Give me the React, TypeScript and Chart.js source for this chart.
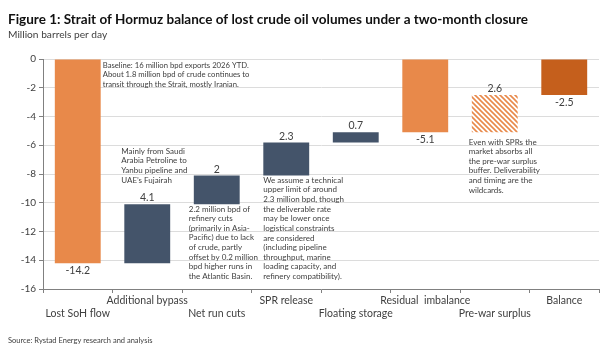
import React, { useEffect, useRef } from "react";
import { Chart, registerables } from "chart.js";

Chart.register(...registerables);

const categories = [
  "Lost SoH flow",
  "Additional bypass",
  "Net run cuts",
  "SPR release",
  "Floating storage",
  "Residual  imbalance",
  "Pre-war surplus",
  "Balance",
];
const values = [-14.2, 4.1, 2.0, 2.3, 0.7, -5.1, 2.6, -2.5];
const kinds = ["total", "step", "step", "step", "step", "total", "step", "total"];
const valueLabels = ["-14.2", "4.1", "2", "2.3", "0.7", "-5.1", "2.6", "-2.5"];
const yTicks = [0, -2, -4, -6, -8, -10, -12, -14, -16];

const TITLE = "Figure 1: Strait of Hormuz balance of lost crude oil volumes under a two-month closure";
const SUBTITLE = "Million barrels per day";
const SOURCE = "Source: Rystad Energy research and analysis";

const annotations = [
  {
    cat: 0, dx: 25, y: -0.42, size: 7.7,
    lines: [
      "Baseline: 16 million bpd exports 2026 YTD.",
      "About 1.8 million bpd of crude continues to",
      "transit through the Strait, mostly Iranian.",
    ],
  },
  {
    cat: 1, dx: -26, y: -6.4, size: 8,
    lines: ["Mainly from Saudi", "Arabia Petroline to", "Yanbu pipeline and", "UAE\u2019s Fujairah"],
  },
  {
    cat: 2, dx: -28, y: -10.43, size: 8,
    lines: [
      "2.2 million bpd of",
      "refinery cuts",
      "(primarily in Asia-",
      "Pacific) due to lack",
      "of crude, partly",
      "offset by 0.2 million",
      "bpd higher runs in",
      "the Atlantic Basin.",
    ],
  },
  {
    cat: 3, dx: -23, y: -8.42, size: 8,
    lines: [
      "We assume a technical",
      "upper limit of around",
      "2.3 million bpd, though",
      "the deliverable rate",
      "may be lower once",
      "logistical constraints",
      "are considered",
      "(including pipeline",
      "throughput, marine",
      "loading capacity, and",
      "refinery compatibility).",
    ],
  },
  {
    cat: 6, dx: -26, y: -5.77, size: 8,
    lines: [
      "Even with SPRs the",
      "market absorbs all",
      "the pre-war surplus",
      "buffer. Deliverability",
      "and timing are the",
      "wildcards.",
    ],
  },
];

const ORANGE = "#E8894A";
const NAVY = "#44546A";
const DARK_ORANGE = "#C55F1C";

const FONT = "Lato, 'Open Sans', sans-serif";

function makeHatch(): CanvasPattern | string {
  const c = document.createElement("canvas");
  c.width = 5;
  c.height = 5;
  const g = c.getContext("2d");
  if (!g) return ORANGE;
  g.fillStyle = "#ffffff";
  g.fillRect(0, 0, 5, 5);
  g.strokeStyle = ORANGE;
  g.lineWidth = 1.6;
  g.beginPath();
  g.moveTo(-1, -1);
  g.lineTo(6, 6);
  g.moveTo(-1, 4);
  g.lineTo(1, 6);
  g.moveTo(4, -1);
  g.lineTo(6, 1);
  g.stroke();
  const p = g.createPattern(c, "repeat");
  return p || ORANGE;
}

export default function App() {
  const ref = useRef<HTMLCanvasElement>(null);

  useEffect(() => {
    if (!ref.current) return;
    document.body.style.margin = "0";

    const floats: [number, number][] = [];
    let running = 0;
    values.forEach((v, i) => {
      if (kinds[i] === "total") {
        floats.push([0, v]);
        running = v;
      } else {
        floats.push([running, running + v]);
        running = running + v;
      }
    });

    const hatch = makeHatch();
    const colors = values.map((v, i) => {
      if (i === 7) return DARK_ORANGE;
      if (i === 6) return hatch;
      if (kinds[i] === "total") return ORANGE;
      return NAVY;
    });

    const textPlugin = {
      id: "texts",
      afterDraw(chart: any) {
        const ctx = chart.ctx;
        const xs = chart.scales.x;
        const ys = chart.scales.y;
        ctx.save();
        // header
        ctx.fillStyle = "#111111";
        ctx.textBaseline = "middle";
        ctx.textAlign = "left";
        ctx.font = `bold 13.5px ${FONT}`;
        ctx.fillText(TITLE, 8, 20);
        ctx.fillStyle = "#404040";
        ctx.font = `10.2px ${FONT}`;
        ctx.fillText(SUBTITLE, 8, 35);
        ctx.font = `7.5px ${FONT}`;
        ctx.fillText(SOURCE, 8, 341);

        // value labels
        ctx.fillStyle = "#404040";
        ctx.font = `10.5px ${FONT}`;
        ctx.textAlign = "center";
        floats.forEach((f, i) => {
          const x = xs.getPixelForValue(i);
          const lo = Math.min(f[0], f[1]);
          const hi = Math.max(f[0], f[1]);
          if (kinds[i] === "total") {
            ctx.textBaseline = "top";
            ctx.fillText(valueLabels[i], x, ys.getPixelForValue(lo) + 2);
          } else {
            ctx.textBaseline = "bottom";
            ctx.fillText(valueLabels[i], x, ys.getPixelForValue(hi) - 1);
          }
        });

        // annotations
        ctx.textAlign = "left";
        ctx.textBaseline = "middle";
        annotations.forEach((a) => {
          ctx.font = `${a.size}px ${FONT}`;
          const x0 = xs.getPixelForValue(a.cat) + a.dx;
          const y0 = ys.getPixelForValue(a.y);
          a.lines.forEach((l, k) => ctx.fillText(l, x0, y0 + k * 9.65));
        });
        ctx.restore();
      },
    };

    const chart = new Chart(ref.current, {
      type: "bar",
      data: {
        labels: categories.map((c, i) => (i % 2 === 0 ? ["", c] : [c, ""])),
        datasets: [
          {
            data: floats as any,
            backgroundColor: colors as any,
            borderWidth: 0,
            categoryPercentage: 1,
            barPercentage: 0.66,
          },
        ],
      },
      options: {
        animation: false,
        responsive: false,
        devicePixelRatio: 1,
        layout: { padding: { left: 0, right: 8, top: 59, bottom: 0 } },
        plugins: {
          legend: { display: false },
          tooltip: { enabled: false },
          title: { display: false },
        },
        scales: {
          x: {
            offset: true,
            afterFit: (s: any) => {
              s.height = 62;
            },
            grid: {
              offset: true,
              display: true,
              drawOnChartArea: false,
              drawTicks: true,
              tickLength: 4,
              tickColor: "#808080",
            },
            border: { display: true, color: "#808080", width: 1 },
            ticks: {
              autoSkip: false,
              maxRotation: 0,
              minRotation: 0,
              padding: 2,
              color: "#404040",
              font: { family: FONT, size: 10.5, lineHeight: 1.15 },
            },
          },
          y: {
            min: -16,
            max: 0,
            afterFit: (s: any) => {
              s.width = 43;
            },
            afterBuildTicks: (s: any) => {
              s.ticks = yTicks.map((v) => ({ value: v }));
            },
            grid: {
              color: "#DCDCDC",
              lineWidth: 1,
              drawTicks: true,
              tickLength: 4,
              tickColor: "#808080",
            },
            border: { display: true, color: "#808080", width: 1 },
            ticks: {
              padding: 3,
              color: "#404040",
              font: { family: FONT, size: 10 },
            },
          },
        },
      },
      plugins: [textPlugin],
    });
    return () => chart.destroy();
  }, []);

  return (
    <div style={{ position: "fixed", left: 0, top: 0, width: 607, height: 351, background: "#fff" }}>
      <canvas ref={ref} width={607} height={351} />
    </div>
  );
}
